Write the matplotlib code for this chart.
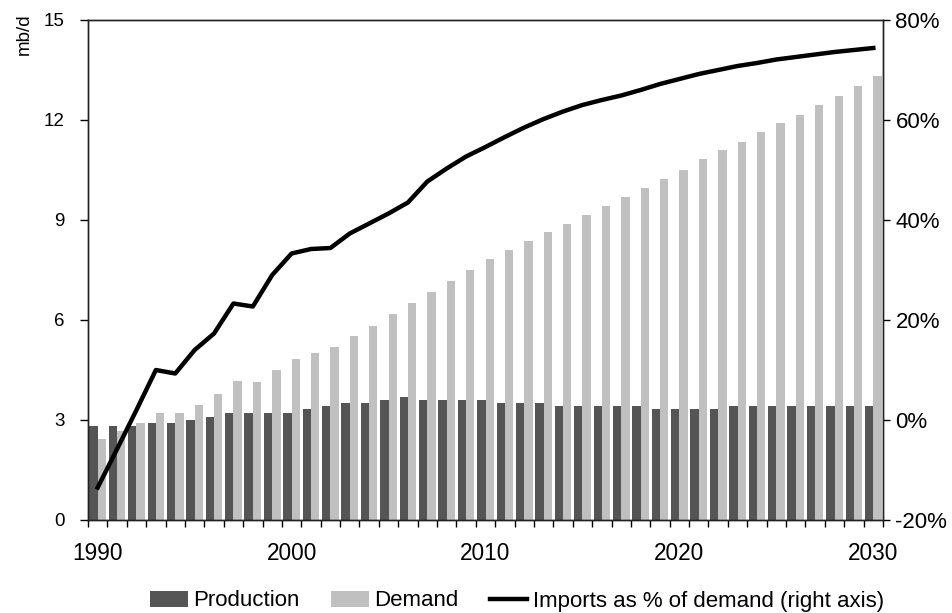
import numpy as np
import matplotlib
matplotlib.use("Agg")
import matplotlib.pyplot as plt
from matplotlib.ticker import FuncFormatter

plt.rcParams['font.family'] = ['Liberation Sans', 'DejaVu Sans']

# data
years = list(range(1990, 2031))
year_labels = ['1990', '2000', '2010', '2020', '2030']
production = [2.82, 2.82, 2.82, 2.92, 2.92, 3.0, 3.1, 3.2, 3.2, 3.2,
              3.2, 3.32, 3.42, 3.5, 3.5, 3.6, 3.7, 3.6, 3.6, 3.6,
              3.6, 3.5, 3.5, 3.5, 3.42, 3.42, 3.42, 3.42, 3.42, 3.33,
              3.33, 3.33, 3.33, 3.42, 3.42, 3.42, 3.42, 3.42, 3.42, 3.42,
              3.42]
demand = [2.42, 2.67, 2.92, 3.2, 3.2, 3.46, 3.78, 4.17, 4.14, 4.5,
          4.83, 5.01, 5.19, 5.53, 5.83, 6.17, 6.51, 6.85, 7.18, 7.5,
          7.83, 8.09, 8.37, 8.63, 8.87, 9.15, 9.41, 9.69, 9.97, 10.23,
          10.51, 10.82, 11.1, 11.34, 11.64, 11.92, 12.16, 12.46, 12.72, 13.02,
          13.31]
imports_pct = [-13.5, -5.8, 2.0, 10.0, 9.3, 14.0, 17.3, 23.3, 22.7, 29.0,
               33.3, 34.2, 34.4, 37.3, 39.3, 41.3, 43.5, 47.7, 50.3, 52.7,
               54.6, 56.6, 58.5, 60.2, 61.7, 63.0, 64.0, 64.9, 66.0, 67.2,
               68.2, 69.2, 70.0, 70.8, 71.4, 72.1, 72.6, 73.1, 73.6, 74.0,
               74.4]

dark = '#555555'
light = '#c0c0c0'

fig = plt.figure(figsize=(9.52, 6.13), dpi=100)
ax = fig.add_axes([88/952, 93/613, 795/952, 500/613])

x = np.arange(len(years))
w = 0.43
b1 = ax.bar(x - w/2, production, w, color=dark, label='Production', zorder=2)
b2 = ax.bar(x + w/2, demand, w, color=light, label='Demand', zorder=2)

ax.set_xlim(-0.5, len(years) - 0.5)
ax.set_ylim(0, 15)
ax.set_yticks(np.arange(0, 16, 3))
ax.tick_params(axis='y', labelsize=13.5, length=6, width=1, pad=11, direction='out')

# category ticks at the boundaries, labels every ten years
ax.set_xticks([years.index(int(y)) for y in year_labels])
ax.set_xticklabels(year_labels)
ax.set_xticks(np.arange(-0.5, len(years), 1), minor=True)
ax.tick_params(axis='x', which='major', length=0, labelsize=16.3, pad=16)
ax.tick_params(axis='x', which='minor', length=5, width=1, direction='out')

for s in ax.spines.values():
    s.set_linewidth(1.0)
    s.set_color('#222222')

ax2 = ax.twinx()
ln, = ax2.plot(x, imports_pct, color='black', lw=3.2,
               label='Imports as % of demand (right axis)', zorder=3)
ax2.set_ylim(-20, 80)
ax2.set_yticks(np.arange(-20, 81, 20))
ax2.yaxis.set_major_formatter(FuncFormatter(lambda v, p: '%d%%' % v))
ax2.tick_params(axis='y', labelsize=16, length=5, width=1, pad=4, direction='out')
for s in ax2.spines.values():
    s.set_linewidth(1.0)
    s.set_color('#222222')

fig.text(24/952, 1 - 13/613, 'mb/d', rotation=90, fontsize=13.5,
         ha='center', va='top')

fig.legend(handles=[b1, b2, ln], loc='center left', bbox_to_anchor=(150/952, 12/613),
           ncol=3, frameon=False, fontsize=16, handlelength=1.7,
           handleheight=0.75, handletextpad=0.25, columnspacing=1.4,
           borderaxespad=0, borderpad=0)

fig.savefig('out.png', dpi=100)
